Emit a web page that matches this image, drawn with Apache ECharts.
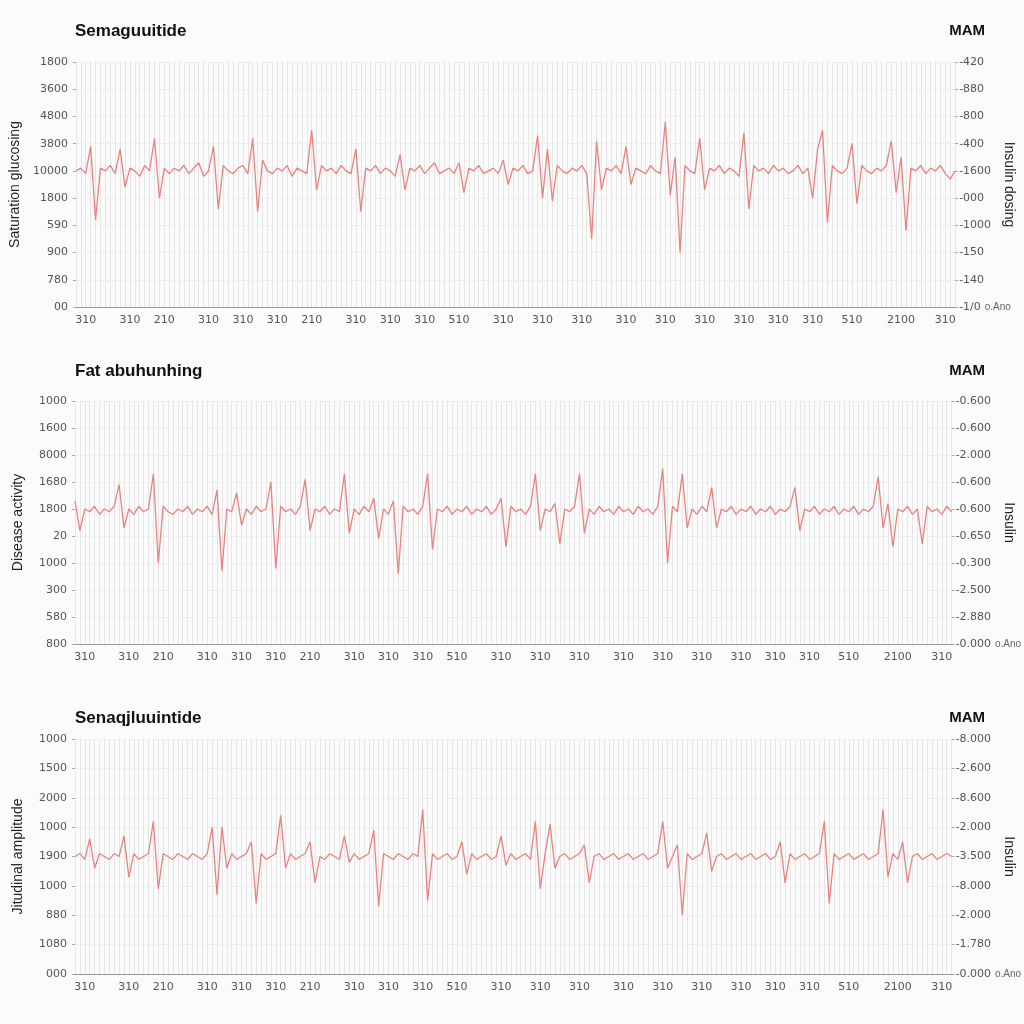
<!DOCTYPE html><html><head><meta charset="utf-8"><script src="https://cdn.jsdelivr.net/npm/echarts@6/dist/echarts.min.js"></script>
<style>html,body{margin:0;background:#fbfbfb}#c{width:1024px;height:1024px}</style></head><body><div id="c"></div><script>
const titles=["Semaguuitide","Fat abuhunhing","Senaqjluuintide"];
const rightTitle="MAM";
const leftNames=["Saturation glucosing","Disease activity","Jitudinal amplitude"];
const rightNames=["Insulin dosing","Insulin","Insulin"];
const leftLabels1=["00","780","900","590","1800","10000","3800","4800","3600","1800"];
const rightLabels1=["-1/0","-140","-150","-1000","-000","-1600","-400","-800","-880","-420"];
const leftLabels2=["800","580","300","1000","20","1800","1680","8000","1600","1000"];
const rightLabels2=["-0.000","-2.880","-2.500","-0.300","-0.650","-0.600","-0.600","-2.000","-0.600","-0.600"];
const leftLabels3=["000","1080","880","1000","1900","1000","2000","1500","1000"];
const rightLabels3=["-0.000","-1.780","-2.000","-8.000","-3.500","-2.000","-8.600","-2.600","-8.000"];
const xLabelIdx=[2,11,18,27,34,41,48,57,64,71,78,87,95,103,112,120,128,136,143,150,158,168,177];
const xLabelText=["310","310","210","310","310","310","210","310","310","310","510","310","310","310","310","310","310","310","310","310","510","2100","310"];
const series1=[5.0,5.1,4.9,5.9,3.2,5.1,5.0,5.2,4.9,5.8,4.4,5.1,5.0,4.8,5.2,5.0,6.2,4.0,5.1,4.9,
5.1,5.0,5.2,4.9,5.1,5.3,4.8,5.0,5.9,3.6,5.2,5.0,4.9,5.1,5.2,4.9,6.2,3.5,5.4,5.0,
4.9,5.1,5.0,5.2,4.8,5.1,5.0,4.9,6.5,4.3,5.2,5.0,5.1,4.9,5.2,5.0,4.9,5.8,3.5,5.1,
5.0,5.2,4.9,5.1,5.0,4.8,5.6,4.3,5.1,5.0,5.2,4.9,5.1,5.3,4.9,5.0,5.1,4.9,5.3,4.2,
5.1,5.0,5.2,4.9,5.0,5.1,4.9,5.4,4.5,5.1,5.0,5.2,4.9,5.0,6.3,4.0,5.8,3.9,5.2,5.0,
4.9,5.1,5.0,5.2,4.9,2.5,6.1,4.3,5.1,5.0,5.2,4.9,5.9,4.5,5.1,5.0,4.9,5.2,5.0,4.9,
6.8,4.1,5.5,2.0,5.2,5.0,4.9,6.2,4.3,5.1,5.0,5.2,4.9,5.1,5.0,4.8,6.4,3.6,5.2,5.0,
5.1,4.9,5.2,5.0,5.1,4.9,5.0,5.2,4.9,5.1,4.0,5.8,6.5,3.1,5.2,5.0,4.9,5.1,6.0,3.8,
5.2,5.0,4.9,5.1,5.0,5.2,6.1,4.2,5.5,2.8,5.1,5.0,5.2,4.9,5.1,5.0,5.2,4.9,4.7,5.0];
const series2=[5.3,4.2,5.0,4.9,5.1,4.8,5.0,4.9,5.1,5.9,4.3,5.0,4.8,5.1,4.9,5.0,6.3,3.0,5.1,4.9,
4.8,5.0,4.9,5.1,4.8,5.0,4.9,5.1,4.8,5.7,2.7,5.0,4.9,5.6,4.4,5.0,4.8,5.1,4.9,5.0,
6.0,2.8,5.1,4.9,5.0,4.8,5.1,6.1,4.2,5.0,4.9,5.1,4.8,5.0,4.9,6.3,4.1,5.0,4.8,5.1,
4.9,5.4,3.9,5.0,4.8,5.3,2.6,5.1,4.9,5.0,4.8,5.1,6.3,3.5,5.0,4.9,5.1,4.8,5.0,4.9,
5.1,4.8,5.0,4.9,5.1,4.8,5.0,5.4,3.6,5.1,4.9,5.0,4.8,5.1,6.3,4.2,5.0,4.9,5.2,3.7,
5.0,4.9,5.1,6.3,4.1,5.0,4.8,5.1,4.9,5.0,4.8,5.1,4.9,5.0,4.8,5.1,4.9,5.0,4.8,5.1,
6.5,3.0,5.1,4.9,6.3,4.3,5.0,4.8,5.1,4.9,5.8,4.3,5.0,4.9,5.1,4.8,5.0,4.9,5.1,4.8,
5.0,4.9,5.1,4.8,5.0,4.9,5.1,5.8,4.2,5.0,4.9,5.1,4.8,5.0,4.9,5.1,4.8,5.0,4.9,5.1,
4.8,5.0,4.9,5.1,6.2,4.3,5.2,3.6,5.0,4.9,5.1,4.8,5.0,3.7,5.1,4.9,5.0,4.8,5.1,4.9];
const series3=[4.0,4.1,3.9,4.6,3.6,4.1,4.0,3.9,4.1,4.0,4.7,3.3,4.1,3.9,4.0,4.1,5.2,2.9,4.1,4.0,
3.9,4.1,4.0,3.9,4.1,4.0,3.9,4.1,5.0,2.7,5.0,3.6,4.1,3.9,4.0,4.1,4.5,2.4,4.1,3.9,
4.0,4.1,5.4,3.6,4.1,3.9,4.0,4.1,4.5,3.1,4.0,3.9,4.1,4.0,3.9,4.7,3.8,4.1,3.9,4.0,
4.1,4.9,2.3,4.1,4.0,3.9,4.1,4.0,3.9,4.1,4.0,5.6,2.5,4.1,3.9,4.0,4.1,3.9,4.0,4.5,
3.4,4.1,3.9,4.0,4.1,3.9,4.0,4.7,3.7,4.1,3.9,4.0,4.1,3.9,5.2,2.9,4.1,5.1,3.6,4.0,
4.1,3.9,4.0,4.1,4.4,3.1,4.0,4.1,3.9,4.0,4.1,3.9,4.0,4.1,3.9,4.0,4.1,3.9,4.0,4.1,
5.2,3.6,4.0,4.4,2.0,4.1,3.9,4.0,4.1,4.8,3.5,4.0,4.1,3.9,4.0,4.1,3.9,4.0,4.1,3.9,
4.0,4.1,3.9,4.0,4.5,3.1,4.1,3.9,4.0,4.1,3.9,4.0,4.1,5.2,2.4,4.1,3.9,4.0,4.1,3.9,
4.0,4.1,3.9,4.0,4.1,5.6,3.3,4.1,3.9,4.5,3.1,4.0,4.1,3.9,4.0,4.1,3.9,4.0,4.1,4.0];

const cats=series1.map((_,i)=>i);
const panels=[
 {top:62,h:245,ty:28,data:series1,L:leftLabels1,R:rightLabels1,max:9},
 {top:401,h:243,ty:368,data:series2,L:leftLabels2,R:rightLabels2,max:9},
 {top:739,h:235,ty:715,data:series3,L:leftLabels3,R:rightLabels3,max:8}];
const grid=[],xAxis=[],yAxis=[],series=[],title=[];
const lab={color:'#555',fontSize:11,fontFamily:'DejaVu Sans'};
panels.forEach((p,i)=>{
 grid.push({left:75,width:890,top:p.top,height:p.h});
 title.push({text:titles[i],left:70,top:p.ty-10,textStyle:{fontSize:17,fontWeight:'bold',color:'#111',fontFamily:'Liberation Sans'}});
 title.push({text:rightTitle,right:34,top:p.ty-10,textStyle:{fontSize:15,fontWeight:'bold',color:'#111',fontFamily:'Liberation Sans'}});
 xAxis.push({type:'category',gridIndex:i,data:cats,boundaryGap:false,name:'o.Ano',nameGap:6,nameTextStyle:{color:'#666',fontSize:10},
  axisLine:{lineStyle:{color:'#999'}},axisTick:{show:false},
  splitLine:{show:true,interval:0,lineStyle:{color:'#e6e6e6',width:1}},
  axisLabel:{...lab,margin:8,interval:(idx)=>xLabelIdx.includes(idx),formatter:(v,idx)=>{const k=xLabelIdx.indexOf(+v);return k>=0?xLabelText[k]:'';}}});
 yAxis.push({type:'value',gridIndex:i,min:0,max:p.max,interval:1,name:leftNames[i],nameLocation:'middle',nameGap:50,nameRotate:90,
  nameTextStyle:{fontSize:14,color:'#222'},axisLine:{show:false},axisTick:{show:true,length:3,lineStyle:{color:'#aaa'}},
  splitLine:{show:true,lineStyle:{color:'#ececec',type:'dashed'}},
  axisLabel:{...lab,formatter:(v)=>p.L[Math.round(v)]}});
 yAxis.push({type:'value',gridIndex:i,position:'right',min:0,max:p.max,interval:1,name:rightNames[i],nameLocation:'middle',nameGap:42,nameRotate:-90,
  nameTextStyle:{fontSize:14,color:'#222'},axisLine:{show:false},axisTick:{show:true,length:3,lineStyle:{color:'#aaa'}},splitLine:{show:false},
  axisLabel:{...lab,margin:4,formatter:(v)=>p.R[Math.round(v)]}});
 series.push({type:'line',xAxisIndex:i,yAxisIndex:2*i,data:p.data,showSymbol:false,lineStyle:{color:'#e8837f',width:1.3},animation:false});
});
const ch=echarts.init(document.getElementById('c'));
ch.setOption({backgroundColor:'#fbfbfb',title,grid,xAxis,yAxis,series,animation:false});
</script></body></html>
